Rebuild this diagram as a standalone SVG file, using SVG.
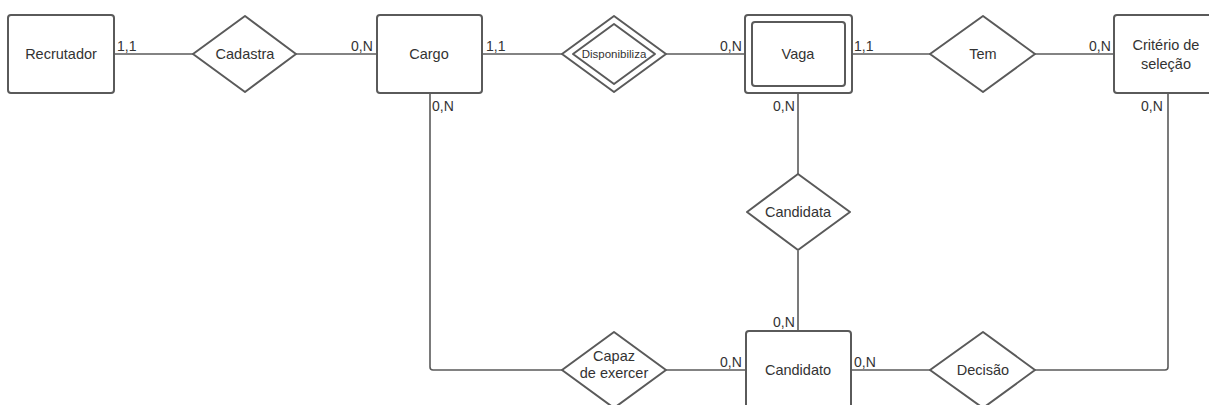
<svg xmlns="http://www.w3.org/2000/svg" width="1209" height="405" viewBox="0 0 1209 405">
<style>
.ent{fill:#fff;stroke:#5a5a5a;stroke-width:2}
.rel{fill:#fff;stroke:#5a5a5a;stroke-width:2;stroke-linejoin:round}
.ln{fill:none;stroke:#5a5a5a;stroke-width:1.6}
.t{font-family:"Liberation Sans",Arial,sans-serif;font-size:14.5px;fill:#333;text-anchor:middle;dominant-baseline:central}
.c{font-family:"Liberation Sans",Arial,sans-serif;font-size:14px;fill:#333}
</style>
<rect width="1209" height="405" fill="#fff"/>
<g id="connectors">
<path class="ln" d="M114 54H193"/>
<path class="ln" d="M296 54H377"/>
<path class="ln" d="M482 54H562"/>
<path class="ln" d="M666 54H745"/>
<path class="ln" d="M852 54H930"/>
<path class="ln" d="M1035 54H1114"/>
<path class="ln" d="M430 93V367Q430 370 433 370H562"/>
<path class="ln" d="M666 370H746"/>
<path class="ln" d="M798 93V174"/>
<path class="ln" d="M798 251V331"/>
<path class="ln" d="M851 370H930"/>
<path class="ln" d="M1035 370H1165Q1168 370 1168 367V93"/>
<text class="c" x="117" y="51">1,1</text>
<text class="c" x="351" y="51">0,N</text>
<text class="c" x="486" y="51">1,1</text>
<text class="c" x="720" y="51">0,N</text>
<text class="c" x="854" y="51">1,1</text>
<text class="c" x="1089" y="51">0,N</text>
<text class="c" x="432" y="111">0,N</text>
<text class="c" x="773" y="111">0,N</text>
<text class="c" x="1141" y="111">0,N</text>
<text class="c" x="773" y="327">0,N</text>
<text class="c" x="720" y="367">0,N</text>
<text class="c" x="854" y="367">0,N</text>
</g>
<g id="recrutador"><rect class="ent" x="8" y="15" width="106" height="78" rx="3"/><text class="t" x="61" y="54">Recrutador</text></g>
<g id="cadastra"><polygon class="rel" points="245,16 296,54 245,92 193,54"/><text class="t" x="245" y="54">Cadastra</text></g>
<g id="cargo"><rect class="ent" x="377" y="15" width="105" height="78" rx="3"/><text class="t" x="429" y="54">Cargo</text></g>
<g id="disponibiliza"><polygon class="rel" points="614,16 666,54 614,92 562,54"/><polygon class="rel" points="614,24 655,54 614,84 573,54"/><text class="t" x="614" y="54" style="font-size:11.5px">Disponibiliza</text></g>
<g id="vaga"><rect class="ent" x="745" y="15" width="107" height="78" rx="3"/><rect class="ent" x="752" y="22" width="93" height="64" rx="3"/><text class="t" x="798" y="54">Vaga</text></g>
<g id="tem"><polygon class="rel" points="983,16 1035,54 983,92 930,54"/><text class="t" x="983" y="54">Tem</text></g>
<g id="criterio"><rect class="ent" x="1114" y="15" width="105" height="78" rx="3"/><text class="t" x="1166" y="45">Critério de</text><text class="t" x="1166" y="64">seleção</text></g>
<g id="candidata"><polygon class="rel" points="798,174 850,212 798,250 747,212"/><text class="t" x="798" y="212">Candidata</text></g>
<g id="capaz"><polygon class="rel" points="614,332 666,370 614,408 562,370"/><text class="t" x="614" y="356">Capaz</text><text class="t" x="614" y="373">de exercer</text></g>
<g id="candidato"><rect class="ent" x="746" y="331" width="105" height="78" rx="3"/><text class="t" x="798" y="370">Candidato</text></g>
<g id="decisao"><polygon class="rel" points="983,332 1035,370 983,408 930,370"/><text class="t" x="983" y="370">Decisão</text></g>
</svg>
